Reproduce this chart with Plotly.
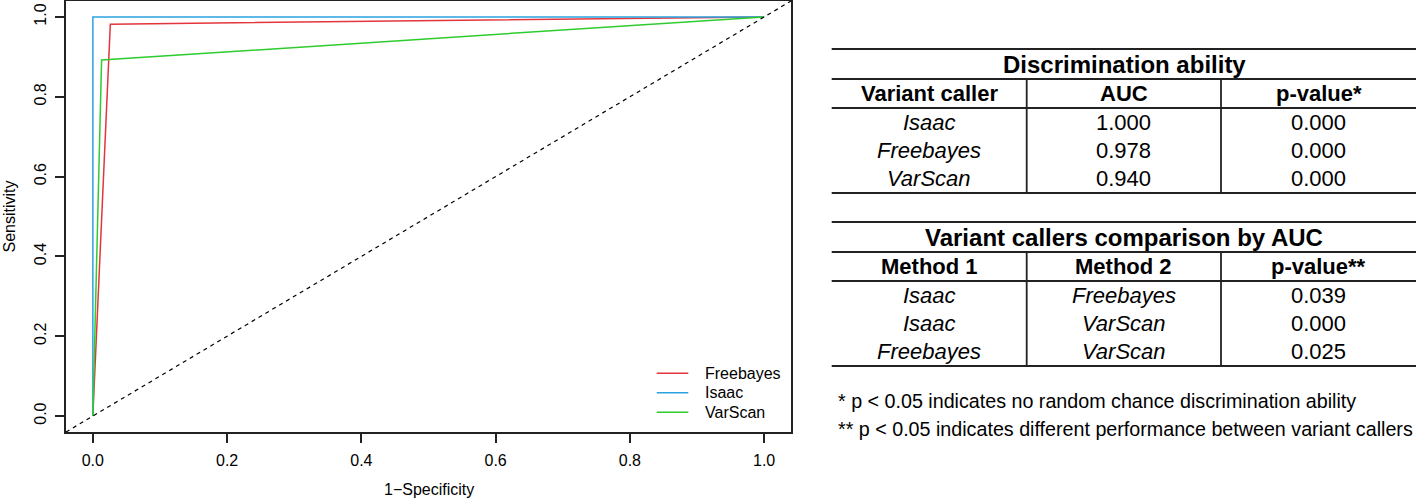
import plotly.graph_objects as go

# ---------------- data ----------------
series_names = ["Freebayes", "Isaac", "VarScan"]
series_colors = ["#E2363C", "#2BA3E0", "#2ECC2E"]

fpr_freebayes = [0.0, 0.026, 1.0]
tpr_freebayes = [0.0, 0.982, 1.0]
fpr_isaac = [0.0, 0.0, 1.0]
tpr_isaac = [0.0, 1.0, 1.0]
fpr_varscan = [0.0, 0.013, 1.0]
tpr_varscan = [0.0, 0.892, 1.0]

tick_vals = [0.0, 0.2, 0.4, 0.6, 0.8, 1.0]
tick_text = ["0.0", "0.2", "0.4", "0.6", "0.8", "1.0"]
axis_range = [-0.04, 1.04]

x_title = "1\u2212Specificity"
y_title = "Sensitivity"

t1_title = "Discrimination ability"
t1_header = ["Variant caller", "AUC", "p-value*"]
t1_callers = ["Isaac", "Freebayes", "VarScan"]
t1_auc = ["1.000", "0.978", "0.940"]
t1_pvalue = ["0.000", "0.000", "0.000"]

t2_title = "Variant callers comparison by AUC"
t2_header = ["Method 1", "Method 2", "p-value**"]
t2_method1 = ["Isaac", "Isaac", "Freebayes"]
t2_method2 = ["Freebayes", "VarScan", "VarScan"]
t2_pvalue = ["0.039", "0.000", "0.025"]

footnotes = [
    "* p < 0.05 indicates no random chance discrimination ability",
    "** p < 0.05 indicates different performance between variant callers",
]

# ---------------- layout geometry ----------------
W, H = 1416, 501
ML, MR, MT, MB = 66, 625, 1, 69
PW = W - ML - MR
PH = H - MT - MB
FONT = "Liberation Sans, Arial, Helvetica, sans-serif"
INK = "#222222"


def px_x(px):
    return (px - ML) / PW


def px_y(py):
    return (H - MB - py) / PH


fig = go.Figure()

curves = [
    (fpr_freebayes, tpr_freebayes),
    (fpr_isaac, tpr_isaac),
    (fpr_varscan, tpr_varscan),
]
for name, color, (fx, ty) in zip(series_names, series_colors, curves):
    fig.add_trace(go.Scatter(
        x=fx, y=ty, mode="lines", name=name,
        line=dict(color=color, width=1.5),
        hoverinfo="skip", showlegend=False,
    ))

axis_common = dict(
    range=axis_range, tickvals=tick_vals, ticktext=tick_text,
    ticks="outside", ticklen=9, tickwidth=1.5, tickcolor=INK,
    showline=True, mirror=True, linecolor=INK, linewidth=1.5,
    showgrid=False, zeroline=False, automargin=False,
    tickfont=dict(family=FONT, size=16, color="black"),
    fixedrange=True,
)

annotations = []
shapes = [
    # chance diagonal (abline 0,1 across the whole plotting region)
    dict(type="line", xref="paper", yref="paper", x0=0, y0=0, x1=1, y1=1,
         line=dict(color="black", width=1.2, dash="4px,4px")),
]

# axis titles
annotations.append(dict(text=x_title, xref="paper", yref="paper",
                        x=0.5, y=px_y(489), xanchor="center", yanchor="middle",
                        showarrow=False, font=dict(family=FONT, size=16, color="black")))
annotations.append(dict(text=y_title, xref="paper", yref="paper",
                        x=px_x(9), y=0.5, xanchor="center", yanchor="middle", textangle=-90,
                        showarrow=False, font=dict(family=FONT, size=16, color="black")))


def hline(py, x0, x1, color=INK, w=2.0):
    shapes.append(dict(type="line", xref="paper", yref="paper",
                       x0=px_x(x0), x1=px_x(x1), y0=px_y(py), y1=px_y(py),
                       line=dict(color=color, width=w)))


def vline(px, y0, y1, w=1.8):
    shapes.append(dict(type="line", xref="paper", yref="paper",
                       x0=px_x(px), x1=px_x(px), y0=px_y(y0), y1=px_y(y1),
                       line=dict(color=INK, width=w)))


def text(px, py, s, size, anchor="center"):
    annotations.append(dict(text=s, xref="paper", yref="paper",
                            x=px_x(px), y=px_y(py), xanchor=anchor, yanchor="middle",
                            showarrow=False,
                            font=dict(family=FONT, size=size, color="black")))


# ---------------- legend (bottom-right, no box, as in base R) ----------------
for i, (name, color) in enumerate(zip(series_names, series_colors)):
    ly = 373.3 + 19.5 * i
    hline(ly, 656.7, 688.3, color=color, w=1.5)
    text(703.0, ly, name, 16, anchor="left")

# ---------------- tables ----------------
col_edges = [831.7, 1026.7, 1221.0, 1416.0]
col_centers = [(col_edges[i] + col_edges[i + 1]) / 2 for i in range(3)]


def draw_table(top, title, header, columns, italic_cols):
    hline(top, col_edges[0], 1420)
    text(1124.0, top + 15.5, "<b>%s</b>" % title, 24)
    hline(top + 30, col_edges[0], 1420)
    for c, h in enumerate(header):
        text(col_centers[c], top + 44.5, "<b>%s</b>" % h, 22)
    hline(top + 59, col_edges[0], 1420)
    row_h = (144 - 59) / 3.0
    for r in range(3):
        cy = top + 59 + row_h * (r + 0.5)
        for c, col in enumerate(columns):
            s = col[r]
            if c in italic_cols:
                s = "<i>%s</i>" % s
            text(col_centers[c], cy, s, 22)
    hline(top + 144, col_edges[0], 1420)
    vline(col_edges[1], top + 30, top + 144)
    vline(col_edges[2], top + 30, top + 144)


draw_table(49.0, t1_title, t1_header, [t1_callers, t1_auc, t1_pvalue], {0})
draw_table(222.0, t2_title, t2_header, [t2_method1, t2_method2, t2_pvalue], {0, 1})

for i, note in enumerate(footnotes):
    text(836.0, 400.5 + 28.5 * i, note, 19.7, anchor="left")

fig.update_layout(
    width=W, height=H,
    margin=dict(l=ML, r=MR, t=MT, b=MB, pad=0, autoexpand=False),
    paper_bgcolor="white", plot_bgcolor="white",
    xaxis=dict(**axis_common, ticklabelstandoff=4),
    yaxis=dict(**axis_common, tickangle=-90, ticklabelstandoff=3),
    showlegend=False,
    annotations=annotations,
    shapes=shapes,
    hovermode=False,
)

# remove the browser's default 8px body margin so the figure fills the window
fig.write_html(
    "out.html",
    config={"displayModeBar": False},
    post_script="document.body.style.margin='0';document.body.style.overflow='hidden';",
)
